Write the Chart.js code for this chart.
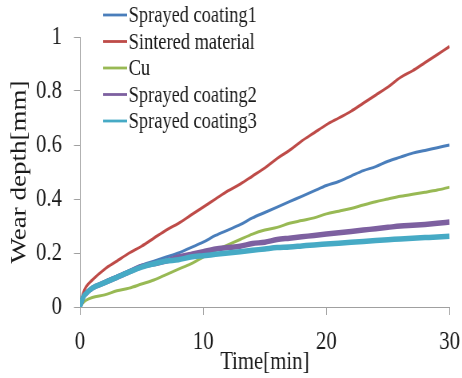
<!DOCTYPE html>
<html>
<head>
<meta charset="utf-8">
<script src="https://cdn.jsdelivr.net/npm/chart.js@4/dist/chart.umd.min.js"></script>
<style>
  html, body { margin: 0; padding: 0; background: #fff; }
</style>
</head>
<body>
<!-- the original figure is squeezed horizontally, so the canvas is drawn wider and shown at 462px -->
<canvas id="grafico" width="578" height="378" style="display:block;width:462px;height:378px"></canvas>
<script>
// ============================================
// Wear depth vs time
// ============================================

const tempos = [0, 0.25, 0.5, 1, 2, 3, 4, 5, 6, 7, 8, 9, 10, 11, 12, 13, 14, 15,
    16, 17, 18, 19, 20, 21, 22, 23, 24, 25, 26, 27, 28, 29, 30];

const sprayed1 = [0, 0.035, 0.05, 0.07, 0.095, 0.115, 0.135, 0.155, 0.17, 0.185, 0.2, 0.22, 0.24,
    0.265, 0.285, 0.305, 0.33, 0.35, 0.37, 0.39, 0.41, 0.43, 0.45, 0.465, 0.485, 0.505,
    0.52, 0.54, 0.555, 0.57, 0.58, 0.59, 0.6];

const sinterizado = [0, 0.05, 0.075, 0.1, 0.14, 0.17, 0.2, 0.225, 0.255, 0.285, 0.31, 0.34, 0.37,
    0.4, 0.43, 0.455, 0.485, 0.515, 0.55, 0.58, 0.615, 0.645, 0.675, 0.7, 0.725, 0.755,
    0.785, 0.815, 0.85, 0.875, 0.905, 0.935, 0.965];

const cobre = [0, 0.015, 0.025, 0.035, 0.045, 0.06, 0.07, 0.085, 0.1, 0.12, 0.14, 0.16, 0.185,
    0.21, 0.23, 0.25, 0.27, 0.285, 0.295, 0.31, 0.32, 0.33, 0.345, 0.355, 0.365, 0.378,
    0.39, 0.4, 0.41, 0.418, 0.425, 0.433, 0.444];

const sprayed2 = [0, 0.035, 0.05, 0.07, 0.09, 0.11, 0.13, 0.15, 0.16, 0.17, 0.185, 0.195, 0.205,
    0.215, 0.22, 0.225, 0.235, 0.24, 0.25, 0.255, 0.26, 0.265, 0.27, 0.275, 0.28, 0.285,
    0.29, 0.295, 0.3, 0.303, 0.306, 0.31, 0.315];

const sprayed3 = [0, 0.035, 0.05, 0.07, 0.09, 0.11, 0.13, 0.148, 0.16, 0.17, 0.175, 0.185, 0.19,
    0.195, 0.2, 0.205, 0.21, 0.215, 0.22, 0.222, 0.226, 0.23, 0.233, 0.236, 0.24, 0.243,
    0.246, 0.249, 0.252, 0.255, 0.257, 0.259, 0.262];

const nomes = ['Sprayed coating1', 'Sintered material', 'Cu', 'Sprayed coating2', 'Sprayed coating3'];
const cores = ['#4a7ebb', '#be4b48', '#98b954', '#7d60a0', '#46aac5'];
const espessuras = [3, 3, 3, 5.5, 5.5];
const series = [sprayed1, sinterizado, cobre, sprayed2, sprayed3];

const fonteSerif = '"Liberation Serif", "Times New Roman", Times, serif';
const corEixo = '#a0a0a0';
const corTexto = '#1a1a1a';

// Legenda desenhada dentro da área do gráfico (canto superior esquerdo)
const legendaPlugin = {
    id: 'legendaManual',
    afterDraw(chart) {
        const ctx = chart.ctx;
        ctx.save();
        ctx.font = `23px ${fonteSerif}`;
        ctx.textBaseline = 'middle';
        ctx.textAlign = 'left';
        nomes.forEach((nome, i) => {
            const y = 15 + i * 26.5;
            ctx.strokeStyle = cores[i];
            ctx.lineWidth = 2.8;
            ctx.beginPath();
            ctx.moveTo(129, y);
            ctx.lineTo(159, y);
            ctx.stroke();
            ctx.fillStyle = corTexto;
            ctx.fillText(nome, 161, y + 1);
        });
        ctx.restore();
    }
};

const datasets = series.map((valores, i) => ({
    label: nomes[i],
    data: tempos.map((t, k) => ({ x: t, y: valores[k] })),
    borderColor: cores[i],
    backgroundColor: cores[i],
    borderWidth: espessuras[i],
    pointRadius: 0,
    cubicInterpolationMode: 'monotone',
    order: series.length - 1 - i
}));

const ctx = document.getElementById('grafico').getContext('2d');

new Chart(ctx, {
    type: 'line',
    data: { datasets: datasets },
    options: {
        responsive: false,
        devicePixelRatio: 1,
        animation: false,
        layout: {
            padding: { top: 37, right: 15.5, left: 0, bottom: 0 }
        },
        plugins: {
            legend: { display: false },
            tooltip: { enabled: false }
        },
        scales: {
            x: {
                type: 'linear',
                min: 0,
                max: 30,
                afterFit: (scale) => {
                    scale.height = 71;
                    // não deixar o rótulo "30" encolher a área do gráfico
                    scale.paddingLeft = 0;
                    scale.paddingRight = 0;
                },
                ticks: {
                    stepSize: 10,
                    padding: 12,
                    color: corTexto,
                    font: { family: fonteSerif, size: 26 }
                },
                grid: {
                    drawOnChartArea: false,
                    drawTicks: true,
                    tickLength: 8,
                    color: corEixo
                },
                border: { color: corEixo, width: 1 },
                title: {
                    display: true,
                    text: 'Time[min]',
                    color: corTexto,
                    font: { family: fonteSerif, size: 26 },
                    padding: { top: 0, bottom: 0 }
                }
            },
            y: {
                min: 0,
                max: 1,
                afterFit: (scale) => { scale.width = 100; },
                ticks: {
                    stepSize: 0.2,
                    padding: 15,
                    color: corTexto,
                    font: { family: fonteSerif, size: 26 },
                    callback: (valor) => String(Number(valor.toFixed(1)))
                },
                grid: {
                    drawOnChartArea: false,
                    drawTicks: true,
                    tickLength: 7.5,
                    color: corEixo
                },
                border: { color: corEixo, width: 1 },
                title: {
                    display: true,
                    text: 'Wear depth[mm]',
                    color: corTexto,
                    font: { family: fonteSerif, size: 27 },
                    padding: { top: 9, bottom: 0 }
                }
            }
        }
    },
    plugins: [legendaPlugin]
});
</script>
</body>
</html>
